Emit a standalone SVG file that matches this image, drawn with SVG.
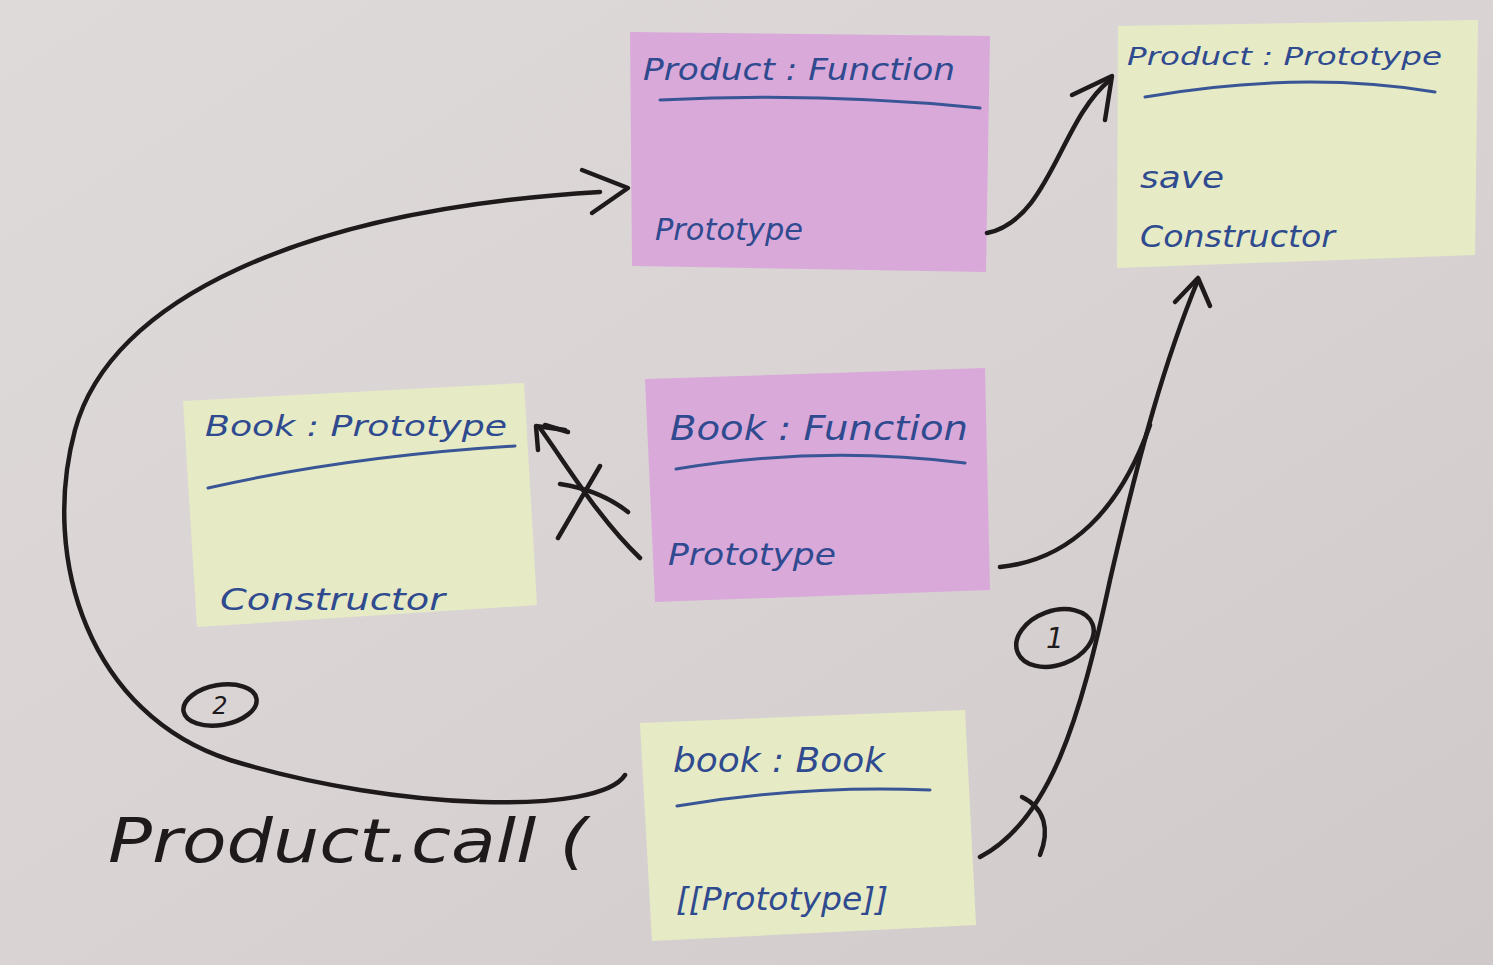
<svg xmlns="http://www.w3.org/2000/svg" width="1493" height="965" viewBox="0 0 1493 965">
<defs>
<linearGradient id="bg" x1="0" y1="0" x2="1" y2="1">
<stop offset="0" stop-color="#dedad9"/>
<stop offset="0.5" stop-color="#d9d4d3"/>
<stop offset="1" stop-color="#cfcac9"/>
</linearGradient>
<style>
.pink{fill:#d9a9da;}
.yellow{fill:#e6ebc6;}
.t{font-family:"DejaVu Sans","Liberation Sans",sans-serif;fill:#2f4a8f;font-style:italic;}
.ul{fill:none;stroke:#3a5595;stroke-width:3;stroke-linecap:round;}
.ln{fill:none;stroke:#1e1a1c;stroke-width:4.5;stroke-linecap:round;stroke-linejoin:round;}
.hand{font-family:"DejaVu Sans","Liberation Sans",sans-serif;fill:#1e1a1c;font-style:italic;}
</style>
</defs>
<rect width="1493" height="965" fill="url(#bg)"/>

<g id="product-function">
<polygon class="pink" points="630,32 990,36 986,272 632,266"/>
<text class="t" x="643" y="80" font-size="30" textLength="312" lengthAdjust="spacingAndGlyphs">Product : Function</text>
<path class="ul" d="M660,100 Q820,92 980,108"/>
<text class="t" x="655" y="240" font-size="30" textLength="148" lengthAdjust="spacingAndGlyphs">Prototype</text>
</g>

<g id="product-prototype">
<polygon class="yellow" points="1118,26 1478,20 1475,255 1117,268"/>
<text class="t" x="1127" y="65" font-size="24" textLength="315" lengthAdjust="spacingAndGlyphs">Product : Prototype</text>
<path class="ul" d="M1145,97 Q1300,70 1435,92"/>
<text class="t" x="1140" y="188" font-size="30" textLength="84" lengthAdjust="spacingAndGlyphs">save</text>
<text class="t" x="1140" y="247" font-size="30" textLength="195" lengthAdjust="spacingAndGlyphs">Constructor</text>
</g>

<g id="book-prototype">
<polygon class="yellow" points="183,401 524,383 537,605 197,627"/>
<text class="t" x="205" y="436" font-size="28" textLength="302" lengthAdjust="spacingAndGlyphs">Book : Prototype</text>
<path class="ul" d="M208,488 Q350,456 515,446"/>
<text class="t" x="220" y="610" font-size="30" textLength="225" lengthAdjust="spacingAndGlyphs">Constructor</text>
</g>

<g id="book-function">
<polygon class="pink" points="645,379 985,368 990,590 655,602"/>
<text class="t" x="670" y="440" font-size="34" textLength="298" lengthAdjust="spacingAndGlyphs">Book : Function</text>
<path class="ul" d="M676,469 Q820,445 965,463"/>
<text class="t" x="668" y="565" font-size="30" textLength="168" lengthAdjust="spacingAndGlyphs">Prototype</text>
</g>

<g id="book-instance">
<polygon class="yellow" points="640,723 965,710 976,925 652,941"/>
<text class="t" x="673" y="772" font-size="34" textLength="212" lengthAdjust="spacingAndGlyphs">book : Book</text>
<path class="ul" d="M677,806 Q800,785 930,790"/>
<text class="t" x="676" y="910" font-size="32" textLength="212" lengthAdjust="spacingAndGlyphs">[[Prototype]]</text>
</g>

<g id="connectors">
<path class="ln" d="M625,775 C600,815 400,812 230,760 C90,715 40,560 75,430 C110,300 300,210 600,192"/>
<path class="ln" d="M582,170 L628,188 L592,213"/>
<path class="ln" d="M987,233 C1050,220 1060,120 1110,80"/>
<path class="ln" d="M1072,95 L1112,76 L1105,120"/>
<path class="ln" d="M1000,567 C1070,560 1120,510 1150,425"/>
<path class="ln" d="M980,857 C1050,820 1080,720 1110,580 C1140,450 1165,360 1198,280"/>
<path class="ln" d="M1175,302 L1198,278 L1210,306"/>
<path class="ln" d="M1022,797 C1045,808 1050,830 1040,855"/>
<path class="ln" d="M640,558 C600,520 570,470 540,428"/>
<path class="ln" d="M538,450 L536,426 L565,430"/>
<path class="ln" d="M545,425 L568,432"/>
<path class="ln" d="M558,538 L600,466"/>
<path class="ln" d="M560,484 Q600,490 628,512"/>
<ellipse class="ln" cx="1055" cy="638" rx="40" ry="27" transform="rotate(-20 1055 638)" stroke-width="4"/>
<text class="hand" x="1055" y="648" font-size="28" text-anchor="middle">1</text>
<ellipse class="ln" cx="220" cy="705" rx="37" ry="20" transform="rotate(-10 220 705)" stroke-width="4"/>
<text class="hand" x="220" y="714" font-size="24" text-anchor="middle">2</text>
</g>

<g id="call-label">
<text class="hand" x="108" y="862" font-size="60" textLength="480" lengthAdjust="spacingAndGlyphs">Product.call (</text>
</g>
</svg>
